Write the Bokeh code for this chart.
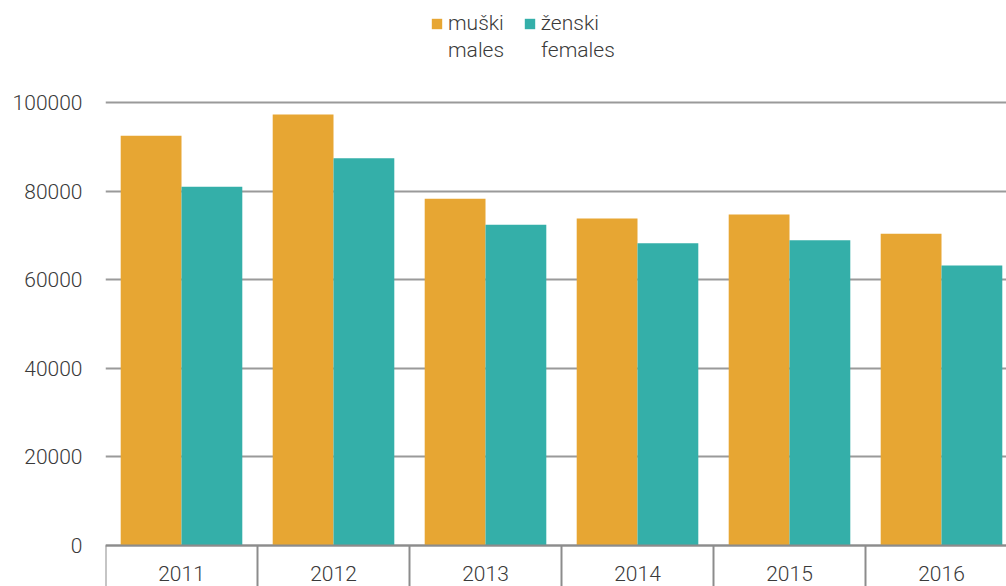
import numpy as np
from bokeh.plotting import figure
from bokeh.models import FixedTicker, Legend, LegendItem, ColumnDataSource
from bokeh.core.properties import value
from bokeh.embed import file_html
from bokeh.resources import INLINE

years = ["2011", "2012", "2013", "2014", "2015", "2016"]
males = [92500, 97300, 78300, 73800, 74700, 70400]
females = [81000, 87400, 72400, 68200, 68900, 63200]
y_ticks = [0, 20000, 40000, 60000, 80000, 100000]
y_tick_labels = ["0", "20000", "40000", "60000", "80000", "100000"]
legend_top = ["muški", "ženski"]
legend_bottom = ["males", "females"]

ORANGE = "#E7A633"
TEAL = "#34AFA9"
FONT = "'Roboto Light', Roboto"
TXT = "#3a3a3a"
AXIS = "#8c8c8c"

# layout: frame spans y 0..586 px; value 0 at 545 px, 100000 at 102 px
PX_PER_UNIT = 443 / 100000
Y_START = -(586 - 545) / PX_PER_UNIT
Y_END = 545 / PX_PER_UNIT
LABEL_Y = -(573 - 545) / PX_PER_UNIT

idx = np.arange(len(years))
src = ColumnDataSource(dict(xm=idx + 0.3, xf=idx + 0.7, males=males, females=females))

p = figure(width=1006, height=586, output_backend="svg", toolbar_location=None,
           x_range=(0, 901 / 152), y_range=(Y_START, Y_END), x_axis_location=None,
           min_border_left=105, min_border_right=0, min_border_top=0, min_border_bottom=0)
p.outline_line_color = None
p.background_fill_color = "white"

# y axis + grid
p.yaxis.ticker = FixedTicker(ticks=y_ticks)
p.yaxis.major_label_overrides = {t: l for t, l in zip(y_ticks, y_tick_labels)}
p.yaxis.axis_line_color = None
p.yaxis.major_tick_line_color = None
p.yaxis.minor_tick_line_color = None
p.yaxis.major_label_standoff = 17
p.yaxis.major_label_text_font = FONT
p.yaxis.major_label_text_font_size = "21px"
p.yaxis.major_label_text_color = TXT
p.ygrid.grid_line_color = "#9a9a9a"
p.ygrid.grid_line_width = 2
p.xgrid.grid_line_color = None

rm = p.vbar(x="xm", top="males", width=0.4, bottom=0, source=src, fill_color=ORANGE, line_color=None)
rf = p.vbar(x="xf", top="females", width=0.4, bottom=0, source=src, fill_color=TEAL, line_color=None)

# category axis drawn in data space: baseline, separators, labels
bounds = np.arange(len(years) + 1)
p.segment(x0=[0], y0=[0], x1=[len(years)], y1=[0], line_color=AXIS, line_width=2)
p.segment(x0=bounds, y0=np.zeros(len(bounds)), x1=bounds, y1=np.full(len(bounds), Y_START),
          line_color=AXIS, line_width=2)
p.text(x=idx + 0.5, y=np.full(len(years), LABEL_Y), text=years,
       text_font=value(FONT), text_font_size="21px", text_color=TXT,
       text_align="center", text_baseline="middle")

# invisible renderers for second legend line
im = p.vbar(x=[], top=[], width=0.4, fill_alpha=0, line_alpha=0)
inv = p.vbar(x=[], top=[], width=0.4, fill_alpha=0, line_alpha=0)

common = dict(orientation="horizontal", padding=0, margin=0, spacing=19, label_standoff=5,
              glyph_width=13, glyph_height=13, border_line_color=None, background_fill_alpha=0,
              label_text_font=FONT, label_text_font_size="21px", label_text_color=TXT)
leg1 = Legend(items=[LegendItem(label=legend_top[0], renderers=[rm]),
                     LegendItem(label=legend_top[1], renderers=[rf])],
              location=(325, 551), **common)
leg2 = Legend(items=[LegendItem(label=legend_bottom[0], renderers=[im]),
                     LegendItem(label=legend_bottom[1], renderers=[inv])],
              location=(325, 524), **common)
p.add_layout(leg1)
p.add_layout(leg2)

open("out.html", "w").write(file_html(p, INLINE))
